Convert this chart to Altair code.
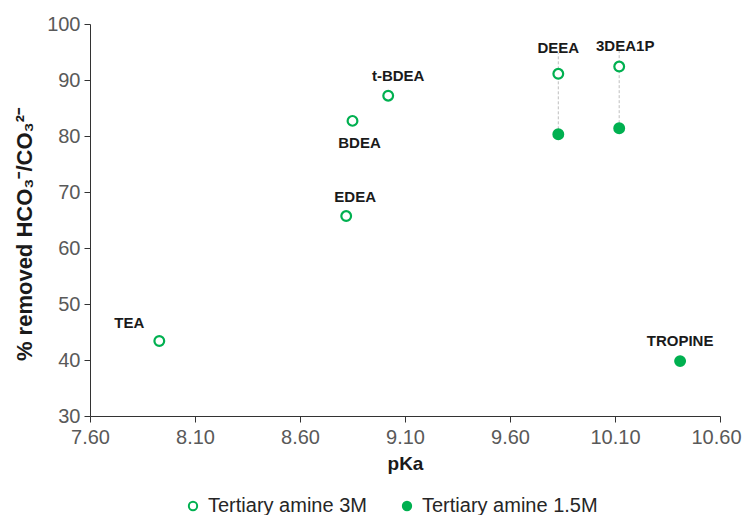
import altair as alt
import pandas as pd

names = ["TEA", "EDEA", "BDEA", "t-BDEA", "DEEA", "3DEA1P", "DEEA", "3DEA1P", "TROPINE"]
pka = [7.93, 8.82, 8.85, 9.02, 9.83, 10.12, 9.83, 10.12, 10.41]
removed = [43.4, 65.7, 82.7, 87.2, 91.1, 92.4, 80.3, 81.4, 39.8]
series = ["Tertiary amine 3M"] * 6 + ["Tertiary amine 1.5M"] * 3

link_names = ["DEEA", "3DEA1P"]
link_pka = [9.83, 10.12]
link_low = [80.3, 81.4]
link_high = [94.8, 95.4]

label_names = ["TEA", "EDEA", "BDEA", "t-BDEA", "DEEA", "3DEA1P", "TROPINE"]
label_pka = [7.93, 8.82, 8.85, 9.02, 9.83, 10.12, 10.41]
label_val = [43.4, 65.7, 82.7, 87.2, 91.1, 92.4, 39.8]
# label offsets (style)
offsets = {
    "TEA": (-30, -18), "EDEA": (9, -19), "BDEA": (7, 22), "t-BDEA": (10, -20),
    "DEEA": (0, -26), "3DEA1P": (6, -21), "TROPINE": (0, -20),
}

x_ticks = [7.6, 8.1, 8.6, 9.1, 9.6, 10.1, 10.6]
y_ticks = [30, 40, 50, 60, 70, 80, 90, 100]

GREEN = "#00B050"
FONT = "Liberation Sans"

df = pd.DataFrame({"name": names, "pka": pka, "removed": removed, "series": series})
links = pd.DataFrame({"name": link_names, "pka": link_pka, "low": link_low, "high": link_high})
labels = pd.DataFrame({"name": label_names, "pka": label_pka, "removed": label_val})

xscale = alt.Scale(domain=[7.6, 10.6], nice=False, zero=False)
yscale = alt.Scale(domain=[30, 100], nice=False, zero=False)

xaxis = alt.Axis(values=x_ticks, format=".2f", grid=False,
                 labelFlush=False,
                 labelOffset={"condition": {"test": "datum.value > 10.5", "value": -4}, "value": 0},
                 title="pKa", titleFontSize=19, titleFontWeight="bold", titleColor="#1a1a1a",
                 titleFont=FONT, labelFont=FONT, labelFontSize=20, labelColor="#595959",
                 domainColor="#333333", tickColor="#333333", tickSize=6, labelPadding=5,
                 titlePadding=7)
yaxis = alt.Axis(values=y_ticks, grid=False, labelFlush=False,
                 title="% removed HCO₃⁻/CO₃²⁻", titleFontSize=22, titleFontWeight="bold",
                 titleColor="#1a1a1a", titleFont=FONT, labelFont=FONT, labelFontSize=20,
                 labelColor="#595959", domainColor="#333333", tickColor="#333333",
                 tickSize=6, labelPadding=4, titlePadding=10, titleY=210)

rules = alt.Chart(links).mark_rule(color="#bfbfbf", strokeDash=[3, 2], strokeWidth=1).encode(
    x=alt.X("pka:Q", scale=xscale, axis=xaxis),
    y=alt.Y("low:Q", scale=yscale, axis=yaxis),
    y2="high:Q",
)

order = ["Tertiary amine 3M", "Tertiary amine 1.5M"]
legend = alt.Legend(title=None, orient="none", direction="horizontal",
                    legendX=93, legendY=472, labelFont=FONT, labelFontSize=20,
                    labelColor="#262626", symbolSize=70, symbolStrokeWidth=2,
                    columnPadding=30, labelOffset=5, labelLimit=400)
points = alt.Chart(df).mark_point(size=95, strokeWidth=2.2, opacity=1, filled=False).encode(
    x=alt.X("pka:Q", scale=xscale, axis=xaxis),
    y=alt.Y("removed:Q", scale=yscale, axis=yaxis),
    fill=alt.Fill("series:N", scale=alt.Scale(domain=order, range=["white", GREEN]), legend=legend),
    stroke=alt.Stroke("series:N", scale=alt.Scale(domain=order, range=[GREEN, GREEN]), legend=legend),
)

text_layers = []
for n in label_names:
    dx, dy = offsets[n]
    text_layers.append(
        alt.Chart(labels).transform_filter(alt.datum.name == n).mark_text(
            font=FONT, fontSize=15, fontWeight="bold", color="#1a1a1a", dx=dx, dy=dy
        ).encode(
            x=alt.X("pka:Q", scale=xscale, axis=xaxis),
            y=alt.Y("removed:Q", scale=yscale, axis=yaxis),
            text="name:N",
        )
    )

chart = alt.layer(rules, points, *text_layers).properties(
    width=630, height=392,
    autosize=alt.AutoSizeParams(type="none"),
    padding={"left": 82, "top": 16, "right": 22, "bottom": 99},
).configure_view(stroke=None)

chart.save("out.html", embed_options={"renderer": "svg", "actions": False})
